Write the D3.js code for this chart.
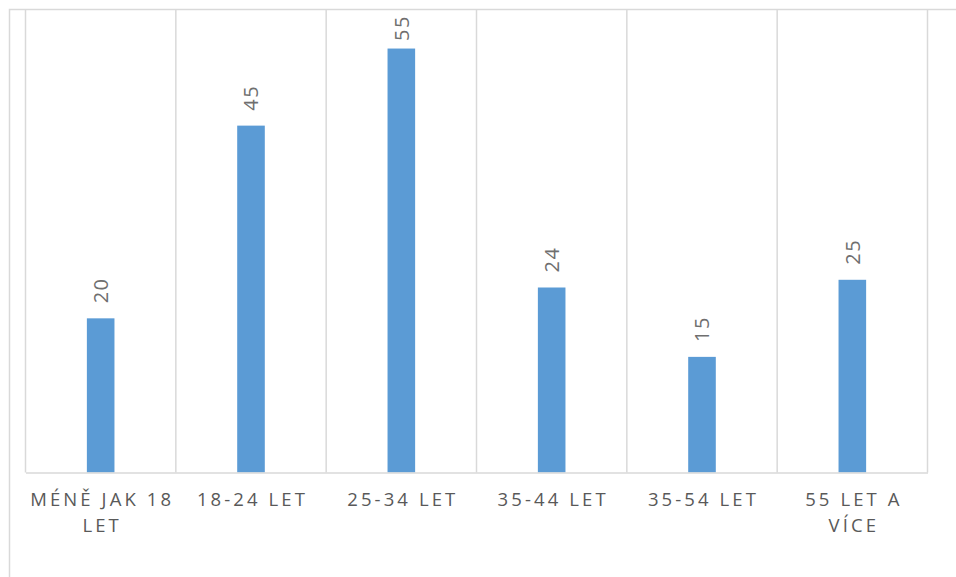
<!DOCTYPE html>
<html>
<head>
<meta charset="utf-8">
<script src="https://cdn.jsdelivr.net/npm/d3@7"></script>
<style>
  html, body { margin: 0; padding: 0; background: #fff; }
  svg { display: block; }
</style>
</head>
<body>
<svg id="chart" width="956" height="577"></svg>
<script>
const categories = ["MÉNĚ JAK 18 LET", "18-24 LET", "25-34 LET", "35-44 LET", "35-54 LET", "55 LET A VÍCE"];
const values = [20, 45, 55, 24, 15, 25];
const yDomain = [0, 60];

const W = 956, H = 577;
const margin = { left: 25.5, right: 956 - 927.5, top: 10, bottom: 577 - 472.5 };
const svg = d3.select("#chart");

// outer chart frame
svg.append("rect")
  .attr("x", 9.5).attr("y", 9.5)
  .attr("width", W + 20).attr("height", H + 20)
  .attr("fill", "none").attr("stroke", "#d9d9d9").attr("stroke-width", 1.5);

const x = d3.scaleBand().domain(categories)
  .range([margin.left, W - margin.right]).paddingInner(0).paddingOuter(0);
const y = d3.scaleLinear().domain(yDomain).range([H - margin.bottom, margin.top]);

// vertical category gridlines
const bounds = categories.map(c => x(c)).concat([x(categories[categories.length - 1]) + x.bandwidth()]);
svg.append("g").selectAll("line").data(bounds).join("line")
  .attr("x1", d => d).attr("x2", d => d)
  .attr("y1", y(yDomain[1])).attr("y2", y(0))
  .attr("stroke", "#d9d9d9").attr("stroke-width", 1.5);

// bars
const barW = 27.6;
svg.append("g").selectAll("rect").data(values).join("rect")
  .attr("x", (d, i) => x(categories[i]) + x.bandwidth() / 2 - barW / 2)
  .attr("y", d => y(d))
  .attr("width", barW)
  .attr("height", d => y(0) - y(d))
  .attr("fill", "#5b9bd5");

// baseline axis
const xAxis = d3.axisBottom(x).tickSize(0).tickFormat("");
const ax = svg.append("g").attr("transform", `translate(0,${y(0)})`).call(xAxis);
ax.select(".domain").attr("stroke", "#d9d9d9").attr("stroke-width", 1.5);

// category labels with wrapping
const fontFam = "'Open Sans', 'DejaVu Sans', sans-serif";
const catSize = 18.5, catLs = "3.1px";
const labelG = svg.append("g");
categories.forEach((c, i) => {
  const cx = x(c) + x.bandwidth() / 2;
  const t = labelG.append("text")
    .attr("x", cx).attr("y", 506)
    .attr("text-anchor", "middle")
    .attr("font-family", fontFam)
    .attr("font-size", catSize)
    .attr("letter-spacing", catLs)
    .attr("fill", "#595959");
  const words = c.split(" ");
  let lines = [], cur = [];
  const tmp = labelG.append("text").attr("font-family", fontFam).attr("font-size", catSize).attr("letter-spacing", catLs);
  words.forEach(w => {
    const test = cur.concat([w]).join(" ");
    tmp.text(test);
    if (tmp.node().getComputedTextLength() > x.bandwidth() && cur.length) {
      lines.push(cur.join(" "));
      cur = [w];
    } else cur.push(w);
  });
  lines.push(cur.join(" "));
  tmp.remove();
  lines.forEach((l, k) => {
    t.append("tspan").attr("x", cx + 1.5).attr("dy", k === 0 ? 0 : 26).text(l);
  });
});

// data labels (rotated)
svg.append("g").selectAll("text").data(values).join("text")
  .attr("transform", (d, i) => {
    const cx = x(categories[i]) + x.bandwidth() / 2;
    const yy = Math.max(y(d) - 15, 41);
    return `translate(${cx},${yy}) rotate(-90)`;
  })
  .attr("dy", "0.36em")
  .attr("text-anchor", "start")
  .attr("font-family", fontFam)
  .attr("font-size", 20)
  .attr("letter-spacing", "1.5px")
  .attr("fill", "#6f6f6f")
  .text(d => d);
</script>
</body>
</html>
